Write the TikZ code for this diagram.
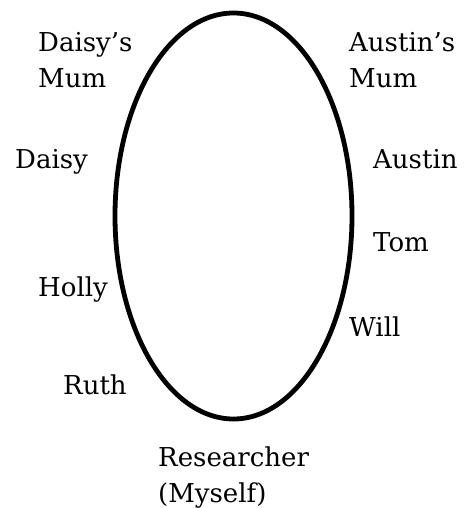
\documentclass[tikz,border=0pt]{standalone}
\usepackage{fontspec}
\setmainfont{DejaVu Serif}
\begin{document}
\begin{tikzpicture}[x=1pt,y=-1pt,
  lbl/.style={anchor=base west,inner sep=0pt,align=left,font=\fontsize{26}{36}\selectfont}]
\useasboundingbox (0,0) rectangle (463,508);
\draw[line width=4.8pt] (233.5,216) ellipse [x radius=118.5, y radius=203];
\node[lbl] (dm) at (38,88) {Daisy’s\\Mum};
\node[lbl] (am) at (349,88) {Austin’s\\Mum};
\node[lbl] (daisy) at (15,168) {Daisy};
\node[lbl] (austin) at (373,168) {Austin};
\node[lbl] (tom) at (373,251) {Tom};
\node[lbl] (holly) at (38,296) {Holly};
\node[lbl] (will) at (349,336) {Will};
\node[lbl] (ruth) at (63,394) {Ruth};
\node[lbl] (res) at (158,502) {Researcher\\(Myself)};
\end{tikzpicture}
\end{document}
